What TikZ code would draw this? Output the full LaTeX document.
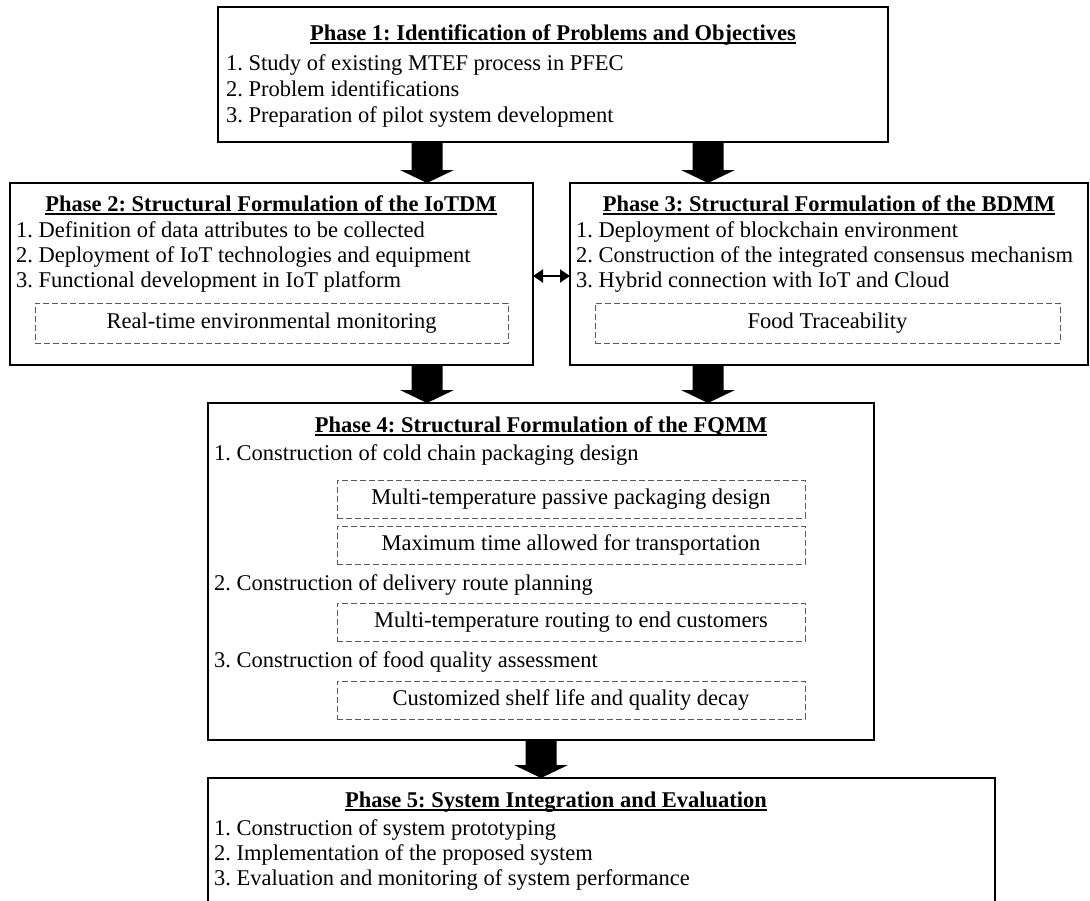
\documentclass[tikz,border=0pt]{standalone}
\usepackage{fontspec}
\setmainfont{Liberation Serif}
\usetikzlibrary{calc,arrows.meta}
\newcommand\blockarrow[2]{%
  \fill let \p1=(#1), \p2=(#2) in
    (\x1-15.5pt,\y1) -- (\x1+15.5pt,\y1) -- (\x1+15.5pt,\y2+13pt) --
    (\x1+27pt,\y2+13pt) -- (\x1,\y2) -- (\x1-27pt,\y2+13pt) --
    (\x1-15.5pt,\y2+13pt) -- cycle;}
\begin{document}
\frenchspacing
\begin{tikzpicture}[x=1pt,y=-1pt,
  frame/.style={draw=black, line width=1.3pt, inner sep=0pt, outer sep=0pt, anchor=north west},
  dashbox/.style={draw=black!65, dash pattern=on 6pt off 3pt, line width=1pt, inner sep=0pt,
    outer sep=0pt, anchor=north west, font=\fontsize{22.5}{27}\selectfont},
  title/.style={font=\fontsize{22.5}{27}\selectfont\bfseries, anchor=base, inner sep=0pt},
  item/.style={font=\fontsize{22.5}{27}\selectfont, anchor=base west, inner sep=0pt},
  uline/.style={line width=2pt},
  link/.style={line width=2pt, {Triangle[length=10pt,width=13pt]}-{Triangle[length=10pt,width=13pt]}}
]
\useasboundingbox (0,0) rectangle (1090,900);
\clip (0,0) rectangle (1090,900);

% Phase 1
\node[frame, minimum width=670pt, minimum height=135pt] (p1) at (218,7) {};
\node[title] (t1) at (553,40) {Phase 1: Identification of Problems and Objectives};
\node[item] (i11) at (226,70) {1. Study of existing MTEF process in PFEC};
\node[item] (i12) at (226,96) {2. Problem identifications};
\node[item] (i13) at (226,122) {3. Preparation of pilot system development};

% Phase 2
\node[frame, minimum width=523pt, minimum height=182pt] (p2) at (10,183) {};
\node[title] (t2) at (271,211) {Phase 2: Structural Formulation of the IoTDM};
\node[item] (i21) at (16,237) {1. Definition of data attributes to be collected};
\node[item] (i22) at (16,262) {2. Deployment of IoT technologies and equipment};
\node[item] (i23) at (16,287) {3. Functional development in IoT platform};
\node[dashbox, minimum width=473pt, minimum height=40pt] (d21) at (35,303) {Real-time environmental monitoring};

% Phase 3
\node[frame, minimum width=518pt, minimum height=182pt] (p3) at (570,183) {};
\node[title] (t3) at (829,211) {Phase 3: Structural Formulation of the BDMM};
\node[item] (i31) at (576,237) {1. Deployment of blockchain environment};
\node[item] (i32) at (576,262) {2. Construction of the integrated consensus mechanism};
\node[item] (i33) at (576,287) {3. Hybrid connection with IoT and Cloud};
\node[dashbox, minimum width=465pt, minimum height=40pt] (d31) at (595,303) {Food Traceability};

% Phase 4
\node[frame, minimum width=666pt, minimum height=337pt] (p4) at (208,403) {};
\node[title] (t4) at (541,432) {Phase 4: Structural Formulation of the FQMM};
\node[item] (i41) at (214,460) {1. Construction of cold chain packaging design};
\node[dashbox, minimum width=468pt, minimum height=38pt] (d41) at (337,480) {Multi-temperature passive packaging design};
\node[dashbox, minimum width=468pt, minimum height=38pt] (d42) at (337,526) {Maximum time allowed for transportation};
\node[item] (i42) at (214,590) {2. Construction of delivery route planning};
\node[dashbox, minimum width=468pt, minimum height=38pt] (d43) at (337,603) {Multi-temperature routing to end customers};
\node[item] (i43) at (214,667) {3. Construction of food quality assessment};
\node[dashbox, minimum width=468pt, minimum height=38pt] (d44) at (337,681) {Customized shelf life and quality decay};

% Phase 5 (runs past the lower edge)
\node[frame, minimum width=787pt, minimum height=160pt] (p5) at (208,778) {};
\node[title] (t5) at (556,807) {Phase 5: System Integration and Evaluation};
\node[item] (i51) at (214,835) {1. Construction of system prototyping};
\node[item] (i52) at (214,860) {2. Implementation of the proposed system};
\node[item] (i53) at (214,885) {3. Evaluation and monitoring of system performance};

% title underlines
\foreach \t in {t1,t2,t3,t4,t5}
  \draw[uline] ([yshift=-3pt]\t.base west) -- ([yshift=-3pt]\t.base east);

% block arrows between phases
\coordinate (ax1) at (427,0);
\coordinate (ax2) at (708,0);
\coordinate (ax3) at (541,0);
\blockarrow{p1.south -| ax1}{p2.north -| ax1}
\blockarrow{p1.south -| ax2}{p3.north -| ax2}
\blockarrow{p2.south -| ax1}{p4.north -| ax1}
\blockarrow{p3.south -| ax2}{p4.north -| ax2}
\blockarrow{p4.south -| ax3}{p5.north -| ax3}

% link between Phase 2 and Phase 3
\coordinate (ly) at (0,276);
\draw[link] (p2.east |- ly) -- (p3.west |- ly);
\end{tikzpicture}
\end{document}
